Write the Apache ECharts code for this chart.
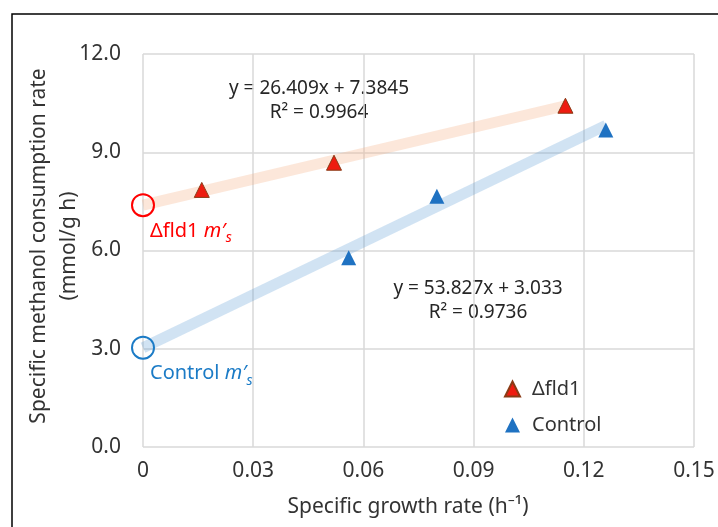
<!DOCTYPE html>
<html>
<head>
<meta charset="utf-8">
<script src="https://cdn.jsdelivr.net/npm/echarts@6/dist/echarts.min.js"></script>
<style>
html,body{margin:0;padding:0;background:#fff;}
#main{width:718px;height:527px;}
</style>
</head>
<body>
<div id="main"></div>
<script>
// data
var fldPoints = [[0.016, 7.85], [0.052, 8.68], [0.115, 10.42]];
var ctrlPoints = [[0.056, 5.78], [0.080, 7.66], [0.126, 9.68]];
var fldTrend = [[0, 7.3845], [0.115, 10.42]];
var ctrlTrend = [[0, 3.033], [0.126, 9.82]];
var fldIntercept = [[0, 7.3845]];
var ctrlIntercept = [[0, 3.033]];
var fldEquation = ['y = 26.409x + 7.3845', 'R² = 0.9964'];
var ctrlEquation = ['y = 53.827x + 3.033', 'R² = 0.9736'];
var xTicks = [0, 0.15, 0.03];   // min, max, interval
var yTicks = [0, 12, 3];

var font = 'Noto Sans';
var textColor = '#333';
var dom = document.getElementById('main');
var chart = echarts.init(dom);

function msLabel(name, color) {
	return {
		show : true,
		position : [19, 38],
		align : 'left',
		verticalAlign : 'middle',
		formatter : '{a|' + name + ' }{i|m′}{s|s}',
		rich : {
			a : { fontFamily : font, fontSize : 20, color : color, lineHeight : 28, verticalAlign : 'middle' },
			i : { fontFamily : font, fontSize : 20, fontStyle : 'italic', color : color, lineHeight : 28, verticalAlign : 'middle' },
			s : { fontFamily : font, fontSize : 14, fontStyle : 'italic', color : color, lineHeight : 28, verticalAlign : 'bottom', padding : [12, 0, 0, 0] }
		}
	};
}

var option = {
	animation : false,
	backgroundColor : '#fff',
	grid : {
		left : 143,
		top : 54,
		right : 24,
		bottom : 80
	},
	xAxis : {
		type : 'value',
		min : xTicks[0],
		max : xTicks[1],
		interval : xTicks[2],
		axisLine : { show : false },
		axisTick : { show : false },
		splitLine : { show : true, lineStyle : { color : '#d9d9d9', width : 1.5 } },
		axisLabel : {
			margin : 14,
			fontFamily : font,
			fontSize : 21,
			color : textColor,
			formatter : function(v) { return v === 0 ? '0' : v.toFixed(2); }
		}
	},
	yAxis : {
		type : 'value',
		min : yTicks[0],
		max : yTicks[1],
		interval : yTicks[2],
		axisLine : { show : false },
		axisTick : { show : false },
		splitLine : { show : true, lineStyle : { color : '#d9d9d9', width : 1.5 } },
		axisLabel : {
			margin : 22,
			fontFamily : font,
			fontSize : 21,
			color : textColor,
			formatter : function(v) { return v.toFixed(1); }
		}
	},
	legend : {
		orient : 'vertical',
		left : 499,
		top : 374,
		itemWidth : 15,
		itemHeight : 15,
		itemGap : 16,
		data : ['Δfld1', 'Control'],
		textStyle : { fontFamily : font, fontSize : 20, color : textColor, padding : [0, 0, 0, 7] }
	},
	graphic : [
		{
			type : 'rect',
			shape : { x : 12, y : 14, width : 720, height : 530 },
			style : { fill : 'none', stroke : '#000', lineWidth : 1.5 },
			silent : true
		},
		{
			type : 'text',
			x : 54,
			y : 246,
			rotation : Math.PI / 2,
			style : {
				text : 'Specific methanol consumption rate\n(mmol/g h)',
				fontFamily : font,
				fontSize : 21,
				lineHeight : 30,
				fill : textColor,
				align : 'center',
				verticalAlign : 'middle'
			}
		},
		{
			type : 'text',
			x : 408,
			y : 507,
			style : {
				text : 'Specific growth rate (h⁻¹)',
				fontFamily : font,
				fontSize : 21,
				fill : textColor,
				align : 'center',
				verticalAlign : 'middle'
			}
		},
		{
			type : 'text',
			x : 319,
			y : 101,
			style : {
				text : fldEquation.join('\n'),
				fontFamily : font,
				fontSize : 19,
				lineHeight : 24,
				fill : '#262626',
				align : 'center',
				verticalAlign : 'middle'
			}
		},
		{
			type : 'text',
			x : 478,
			y : 301,
			style : {
				text : ctrlEquation.join('\n'),
				fontFamily : font,
				fontSize : 19,
				lineHeight : 24,
				fill : '#262626',
				align : 'center',
				verticalAlign : 'middle'
			}
		}
	],
	series : [
		{
			name : 'fld trend',
			type : 'line',
			data : fldTrend,
			symbol : 'none',
			silent : true,
			lineStyle : { color : 'rgba(244,177,131,0.3)', width : 11, cap : 'butt' },
			z : 1
		},
		{
			name : 'ctrl trend',
			type : 'line',
			data : ctrlTrend,
			symbol : 'none',
			silent : true,
			lineStyle : { color : 'rgba(91,155,213,0.28)', width : 11, cap : 'butt' },
			z : 1
		},
		{
			name : 'fld intercept',
			type : 'scatter',
			data : fldIntercept,
			symbol : 'circle',
			symbolSize : 22,
			itemStyle : { color : 'rgba(255,255,255,0)', borderColor : '#ff0000', borderWidth : 2, opacity : 1 },
			label : msLabel('Δfld1', '#ff0000'),
			z : 3
		},
		{
			name : 'ctrl intercept',
			type : 'scatter',
			data : ctrlIntercept,
			symbol : 'circle',
			symbolSize : 22,
			itemStyle : { color : 'rgba(255,255,255,0)', borderColor : '#1b7bc6', borderWidth : 2, opacity : 1 },
			label : msLabel('Control', '#1b7bc6'),
			z : 3
		},
		{
			name : 'Δfld1',
			type : 'scatter',
			data : fldPoints,
			symbol : 'triangle',
			symbolSize : 15,
			itemStyle : { color : '#ee1c10', borderColor : '#8a3b16', borderWidth : 1, opacity : 1 },
			z : 4
		},
		{
			name : 'Control',
			type : 'scatter',
			data : ctrlPoints,
			symbol : 'triangle',
			symbolSize : 15,
			itemStyle : { color : '#1f72c2', opacity : 1 },
			z : 4
		}
	]
};
chart.setOption(option);
</script>
</body>
</html>
